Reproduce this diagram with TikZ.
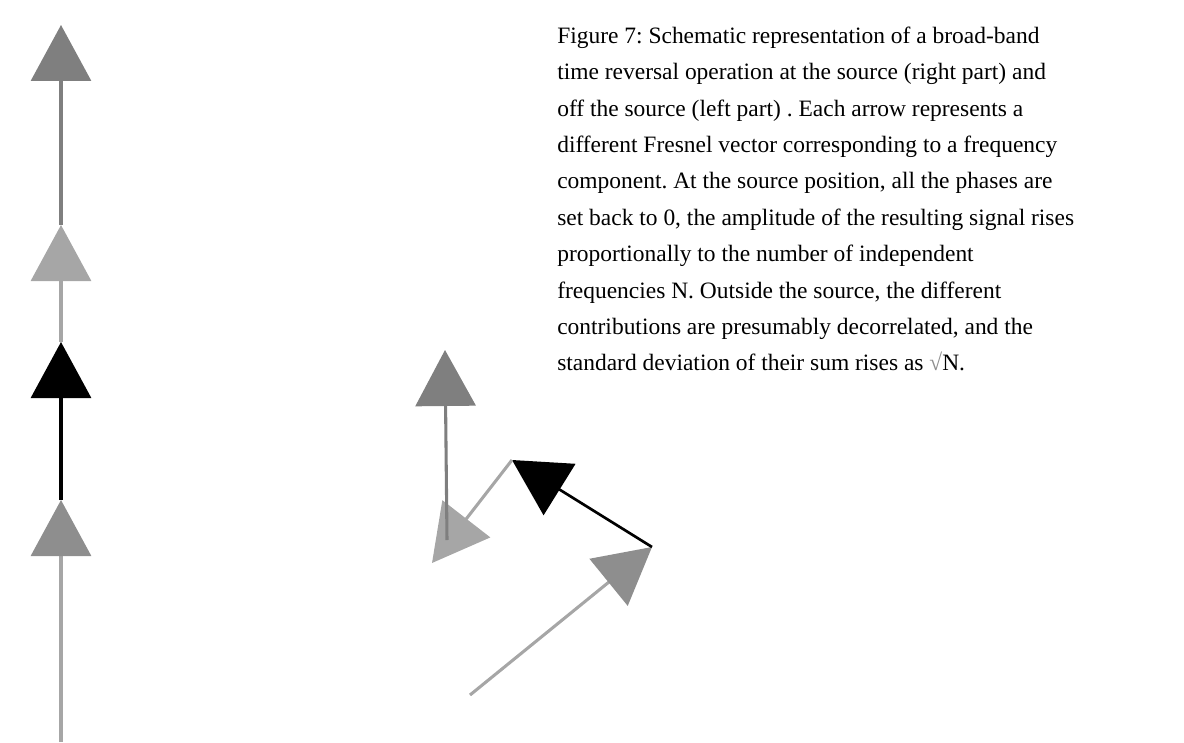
\documentclass[tikz,border=0pt]{standalone}
\usepackage{fontspec}
\setmainfont{Liberation Serif}
\usetikzlibrary{arrows.meta}
\definecolor{gdark}{HTML}{7F7F7F}
\definecolor{gmid}{HTML}{8E8E8E}
\definecolor{glight}{HTML}{A6A6A6}
\frenchspacing
\begin{document}
\begin{tikzpicture}[x=0.75pt,y=-0.75pt,
  vec/.style={line width=2.3pt,-{Triangle[length=42pt,width=45pt]}},
  midvec/.style={line width=2.3pt,glight,-{Triangle[length=42pt,width=45pt,color=gmid,fill=gmid]}},
  caption/.style={anchor=north west,inner sep=0pt,align=left,
    font=\fontsize{17.6pt}{27.3pt}\selectfont}]
\useasboundingbox (0,0) rectangle (1184,742);
% left part: off the source
\coordinate (L0) at (61,742);
\coordinate (L1) at (61,500);
\coordinate (L2) at (61,342);
\coordinate (L3) at (61,225);
\coordinate (L4) at (61,25);
\draw[midvec] (L0) -- (L1);
\draw[vec,black] (L1) -- (L2);
\draw[vec,glight] (L2) -- (L3);
\draw[vec,gdark] (L3) -- (L4);
% right part: at the source
\coordinate (R0) at (470,695);
\coordinate (R1) at (652,547);
\coordinate (R2) at (512,460);
\coordinate (R3) at (432,563);
\coordinate (R3b) at (447,540);
\coordinate (R4) at (445,350);
\draw[midvec] (R0) -- (R1);
\draw[vec,black,line width=2pt] (R1) -- (R2);
\draw[vec,glight] (R2) -- (R3);
\draw[vec,gdark] (R3b) -- (R4);
% caption
\node[caption] (cap) at (557,26.5) {Figure 7: Schematic representation of a broad-band\\
time reversal operation at the source (right part) and\\
off the source (left part) . Each arrow represents a\\
different Fresnel vector corresponding to a frequency\\
component. At the source position, all the phases are\\
set back to 0, the amplitude of the resulting signal rises\\
proportionally to the number of independent\\
frequencies N. Outside the source, the different\\
contributions are presumably decorrelated, and the\\
standard deviation of their sum rises as \textcolor{gmid}{√}N.};
\end{tikzpicture}
\end{document}
